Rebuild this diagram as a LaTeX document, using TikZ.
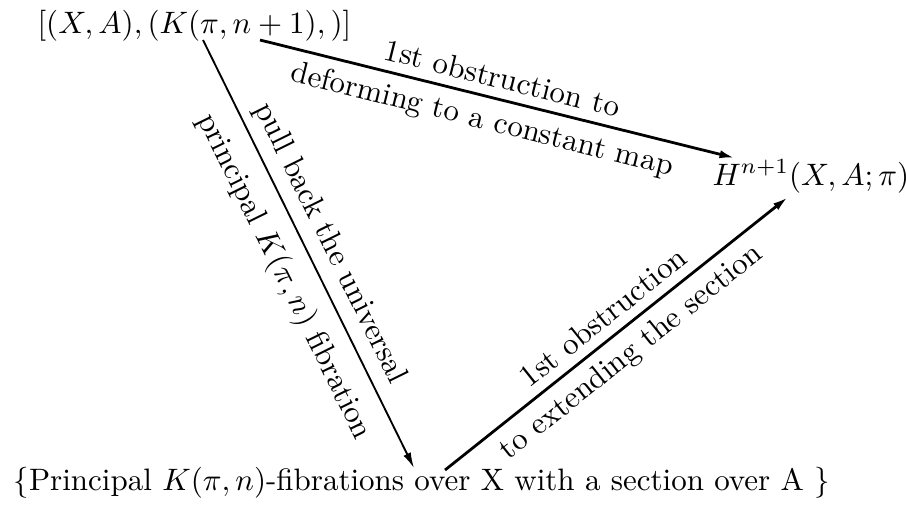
\documentclass[tikz,border=0pt]{standalone}
\usetikzlibrary{arrows.meta}
\begin{document}
\begin{tikzpicture}[x=0.3226pt,y=-0.3226pt,
  lbl/.style={inner sep=3pt},
  arr/.style={-{Latex[length=5pt,width=2.6pt]}, line width=0.9pt},
  thinarr/.style={arr, line width=0.6pt},
  obj/.style={inner sep=0pt, anchor=base west}]
\useasboundingbox (0,0) rectangle (906,506);
\node[obj] (tl) at (37,33) {$[(X,A),(K(\pi,n+1),)]$};
\node[obj] (h) at (712,185) {$H^{n+1}(X,A;\pi)$};
\node[obj] (b) at (13,490) {$\{$Principal $K(\pi,n)$-fibrations over X with a section over A $\}$};
\draw[arr] ([shift={(223,7)}]tl.base west)
  -- node[lbl,sloped,above,pos=0.5]{1st obstruction to}
     node[lbl,sloped,below,pos=0.48]{deforming to a constant map}
  ([shift={(23,-27)}]h.base west);
\draw[thinarr] ([shift={(166,7)}]tl.base west)
  -- node[lbl,sloped,above,pos=0.5]{pull back the universal}
     node[lbl,sloped,below,pos=0.52,inner sep=5pt]{principal $K(\pi,n)$ fibration}
  ([shift={(401,-22)}]b.base west);
\draw[arr] ([shift={(432,-20)}]b.base west)
  -- node[lbl,sloped,above,pos=0.5]{1st obstruction}
     node[lbl,sloped,below,pos=0.5]{to extending the section}
  ([shift={(76,12)}]h.base west);
\end{tikzpicture}
\end{document}
